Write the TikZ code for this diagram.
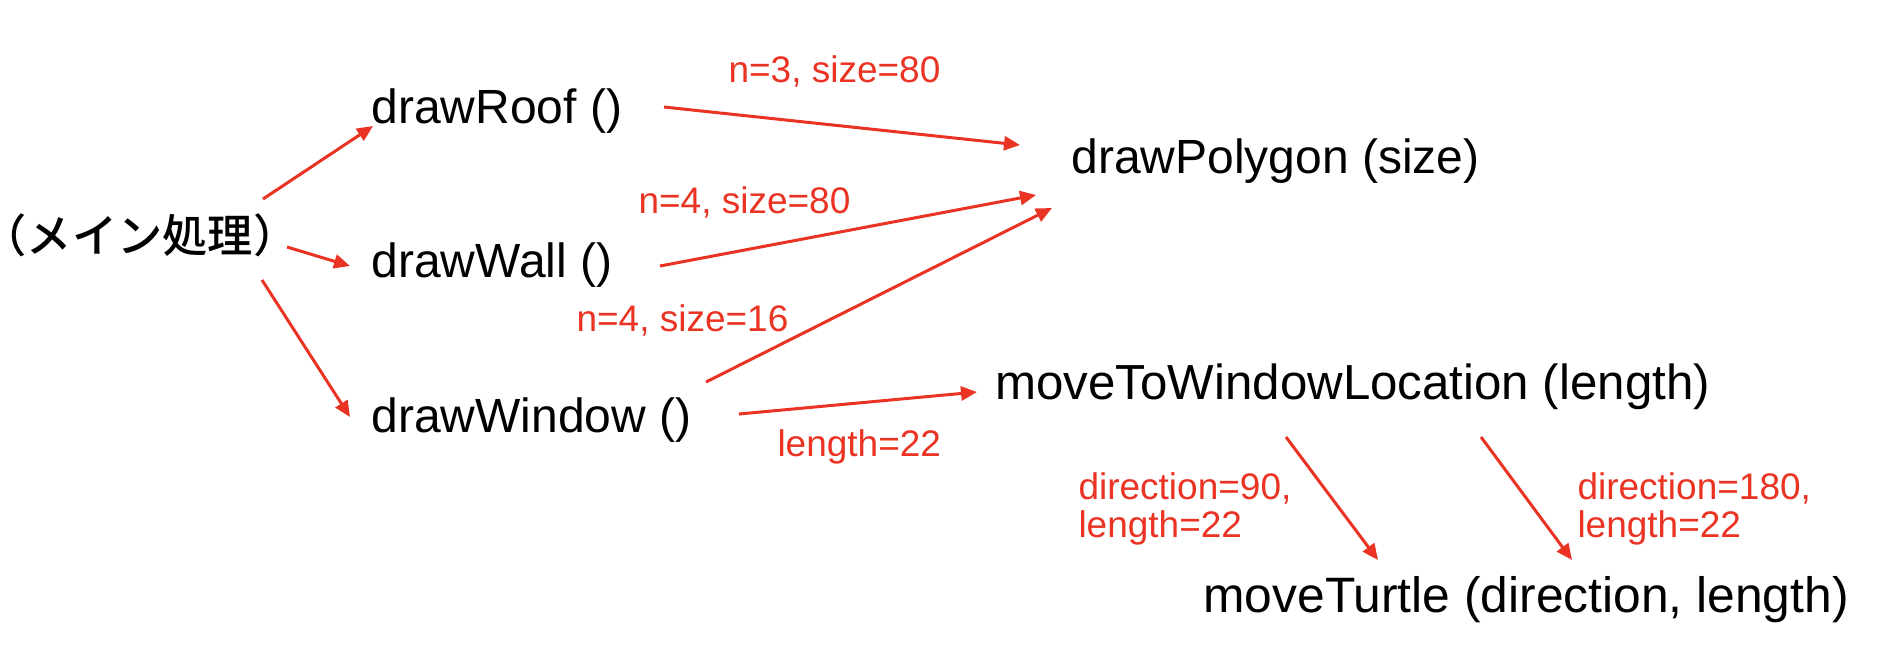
\documentclass[tikz,border=0pt]{standalone}
\usepackage{fontspec}
\setmainfont{Liberation Sans}
\newfontfamily\jpfont{Noto Sans CJK JP Medium}
\usetikzlibrary{arrows.meta,calc}

\definecolor{callred}{RGB}{234,51,35}

\tikzset{every picture/.style={line width=1.2pt}}
\tikzset{
  func/.style={inner sep=0pt, anchor=base west, font=\fontsize{19.2}{23}\selectfont},
  argl/.style={inner sep=0pt, anchor=base west, text=callred, align=left, font=\fontsize{14.8}{15.2}\selectfont},
  call/.style={draw=callred, -{Triangle[length=6.4pt,width=5.6pt]}, fill=none}
}

\begin{document}
\begin{tikzpicture}[x=0.4pt,y=0.4pt,yscale=-1,xscale=1]
\useasboundingbox (0,0) rectangle (1878,668);

% functions
\node (main) [inner sep=0pt, font=\fontsize{18.1}{22}\selectfont\jpfont] at (140,235) {（メイン処理）};
\node (roof) [func] at (370,123) {drawRoof ()};
\node (wall) [func] at (370,277) {drawWall ()};
\node (window) [func] at (370,432) {drawWindow ()};
\node (polygon) [func] at (1070,173) {drawPolygon (size)};
\node (moveto) [func, font=\fontsize{19.7}{23}\selectfont] at (994,399) {moveToWindowLocation (length)};
\node (turtle) [func, font=\fontsize{19.9}{23}\selectfont] at (1202,612) {moveTurtle (direction, length)};

% arguments
\node (argroof) [argl] at (727,82) {n=3, size=80};
\node (argwall) [argl] at (637,213) {n=4, size=80};
\node (argwin) [argl] at (575,331) {n=4, size=16};
\node (arglen) [argl] at (776,456) {length=22};
\node (argdir1) [argl] at (1077,537) {direction=90,\\length=22};
\node (argdir2) [argl] at (1576,537) {direction=180,\\length=22};

% calls
\draw [call] ($(main.center)+(123,-36)$) -- ($(roof.base west)+(3,3)$);
\draw [call] ($(main.center)+(147,12)$) -- ($(wall.base west)+(-20,-11)$);
\draw [call] ($(main.center)+(122,45)$) -- ($(window.base west)+(-20,-15)$);
\draw [call] ($(roof.base west)+(294,-16)$) -- ($(polygon.base west)+(-50,-28)$);
\draw [call] ($(wall.base west)+(290,-11)$) -- ($(polygon.base west)+(-34,22)$);
\draw [call] ($(window.base west)+(336,-50)$) -- ($(polygon.base west)+(-18,35)$);
\draw [call] ($(window.base west)+(369,-18)$) -- ($(moveto.base west)+(-17,-7)$);
\draw [call] ($(moveto.base west)+(292,38)$) -- ($(turtle.base west)+(176,-52)$);
\draw [call] ($(moveto.base west)+(487,38)$) -- ($(turtle.base west)+(370,-52)$);

\end{tikzpicture}
\end{document}
